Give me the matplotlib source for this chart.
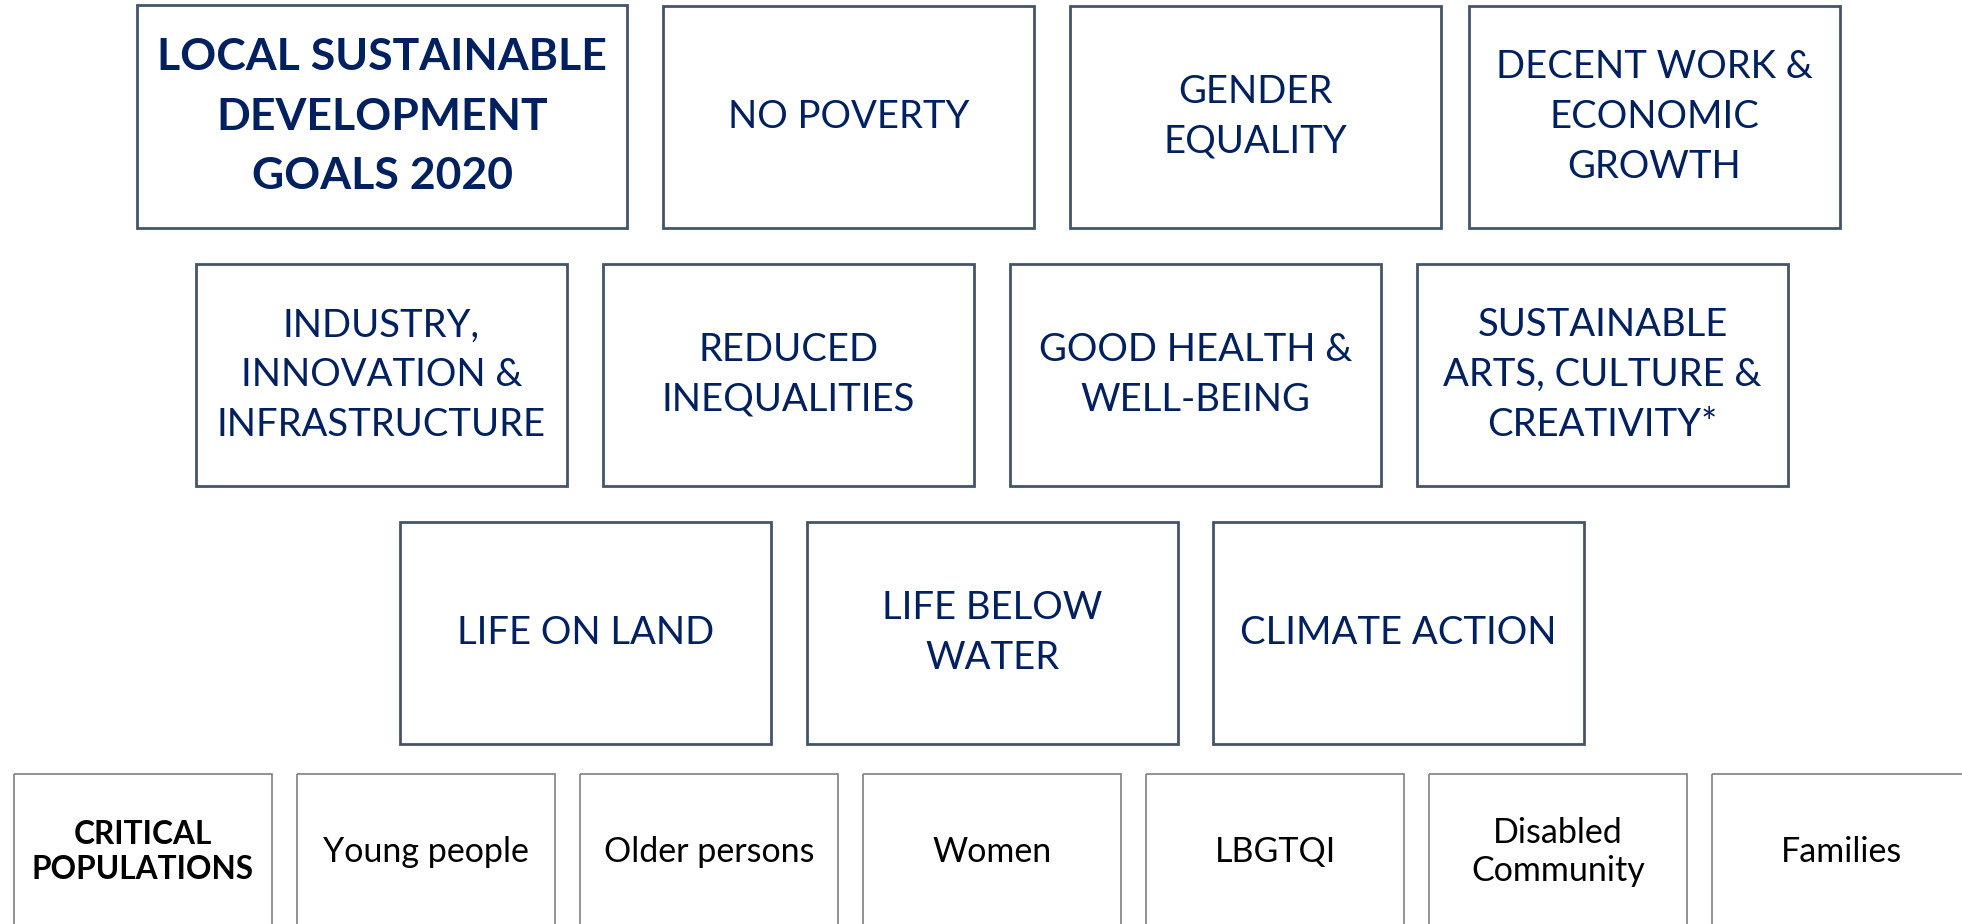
import matplotlib
matplotlib.use("Agg")
import matplotlib.pyplot as plt
from matplotlib.patches import Rectangle

# ---- content ----
title_label = "LOCAL SUSTAINABLE\nDEVELOPMENT\nGOALS 2020"
row1_labels = ["NO POVERTY", "GENDER\nEQUALITY", "DECENT WORK &\nECONOMIC\nGROWTH"]
row2_labels = ["INDUSTRY,\nINNOVATION &\nINFRASTRUCTURE", "REDUCED\nINEQUALITIES",
               "GOOD HEALTH &\nWELL-BEING", "SUSTAINABLE\nARTS, CULTURE &\nCREATIVITY*"]
row3_labels = ["LIFE ON LAND", "LIFE BELOW\nWATER", "CLIMATE ACTION"]
pop_header = "CRITICAL\nPOPULATIONS"
pop_labels = ["Young people", "Older persons", "Women", "LBGTQI",
              "Disabled\nCommunity", "Families"]

# ---- style ----
NAVY = "#002060"
SLATE = "#44546A"
GREY = "#808080"
FONT = ["Lato", "DejaVu Sans"]

W, H = 1962, 924
fig = plt.figure(figsize=(W / 100, H / 100), dpi=100)
ax = fig.add_axes([0, 0, 1, 1])
ax.set_xlim(0, W)
ax.set_ylim(H, 0)
ax.axis("off")


def box(x0, y0, w, h, text, ec, lw, color, size, weight="normal", ty=None,
        ls=1.47):
    ax.add_patch(Rectangle((x0, y0), w, h, fill=False, ec=ec, lw=lw))
    ax.text(x0 + w / 2, (y0 + h / 2) if ty is None else ty, text, ha="center",
            va="center", color=color, fontsize=size, fontweight=weight,
            family=FONT, linespacing=ls, multialignment="center")


GW = 371
# row 1
box(137, 5, 490, 223, title_label, SLATE, 2.0, NAVY, 32, "bold", ls=1.58)
row1_x = [663, 1070, 1469]
for x, t in zip(row1_x, row1_labels):
    box(x, 6, GW, 222, t, SLATE, 2.0, NAVY, 27.5)
# row 2
for i, t in enumerate(row2_labels):
    box(196 + 407 * i, 264, GW, 222, t, SLATE, 2.0, NAVY, 27.5)
# row 3
for i, t in enumerate(row3_labels):
    box(400 + 406.5 * i, 522, GW, 222, t, SLATE, 2.0, NAVY, 27.5)
# row 4
PW, PP = 258, 283
box(14, 774, PW, 170, pop_header, GREY, 1.2, "black", 22.8, "bold", ty=852,
    ls=1.22)
for i, t in enumerate(pop_labels):
    box(14 + PP * (i + 1), 774, PW, 170, t, GREY, 1.2, "black", 24.5, ty=852,
        ls=1.22)

fig.savefig("out.png", dpi=100, facecolor="white")
